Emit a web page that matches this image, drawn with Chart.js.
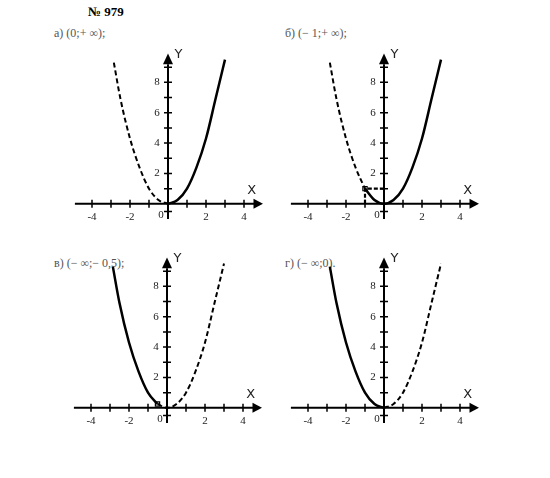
<!DOCTYPE html>
<html><head><meta charset="utf-8">
<script src="https://cdn.jsdelivr.net/npm/chart.js@4"></script>
<style>
body{margin:0;background:#fff;width:550px;height:478px;position:relative;font-family:"Liberation Serif",serif;overflow:hidden}
.t{position:absolute;font-size:12px;color:#555;white-space:nowrap}
canvas{position:absolute}
</style></head><body>
<div class="t" style="left:88px;top:4px;font-weight:bold;color:#000;font-size:13px">№ 979</div>
<div class="t" style="left:54px;top:26px">а) (0;+ ∞);</div>
<div class="t" style="left:285px;top:26px">б) (− 1;+ ∞);</div>
<div class="t" style="left:54px;top:256px">в) (− ∞;− 0,5);</div>
<div class="t" style="left:285px;top:256px">г) (− ∞;0).</div>
<div id="w"></div>
<script>
// points (same parabola in every panel)
const xs = [-2.85, -2.5, -2, -1.5, -1, -0.5, 0, 0.5, 1, 1.5, 2, 2.5, 3];
const ys = [9.3, 6.9, 4.3, 2.4, 1, 0.25, 0, 0.25, 1, 2.4, 4.3, 6.9, 9.5];
const xTicks = [-4, -2, 2, 4];
const yTicks = [2, 4, 6, 8];
// split point between dashed and solid part, and which side is solid
const panels = [
  { ox: 168, oy: 204, split: 0, solidRight: true, mark: null },
  { ox: 384, oy: 204, split: -1, solidRight: true, mark: [-1, 1] },
  { ox: 167, oy: 408, split: -0.5, solidRight: false, mark: [-0.5, 0.25] },
  { ox: 384, oy: 408, split: 0, solidRight: false, mark: null }
];
const UX = 19, UY = 15.2, PAD = 20;

const axesPlugin = {
  id: 'axes',
  beforeDatasetsDraw(chart) {
    const c = chart.ctx, sx = chart.scales.x, sy = chart.scales.y;
    const X = v => sx.getPixelForValue(v), Y = v => sy.getPixelForValue(v);
    c.save();
    c.strokeStyle = '#000'; c.fillStyle = '#000'; c.lineWidth = 2;
    c.beginPath(); c.moveTo(X(-4.9), Y(0)); c.lineTo(X(4.6), Y(0));
    c.moveTo(X(0), Y(-1)); c.lineTo(X(0), Y(9.2)); c.stroke();
    c.beginPath(); c.moveTo(X(5), Y(0)); c.lineTo(X(4.5), Y(0) - 5); c.lineTo(X(4.5), Y(0) + 5); c.fill();
    c.beginPath(); c.moveTo(X(0), Y(9.9)); c.lineTo(X(0) - 5, Y(9.2)); c.lineTo(X(0) + 5, Y(9.2)); c.fill();
    c.lineWidth = 1.5; c.beginPath();
    for (let i = -4; i <= 4; i++) if (i) { c.moveTo(X(i), Y(0) - 4); c.lineTo(X(i), Y(0) + 4); }
    for (let j = 1; j <= 9; j++) { c.moveTo(X(0) - 4, Y(j)); c.lineTo(X(0) + 4, Y(j)); }
    c.moveTo(X(0) - 4, Y(-0.5)); c.lineTo(X(0) + 4, Y(-0.5));
    c.stroke();
    c.font = '11px "Liberation Serif"'; c.fillStyle = '#222'; c.textAlign = 'center'; c.textBaseline = 'middle';
    xTicks.forEach(v => c.fillText(v, X(v), Y(0) + 13));
    yTicks.forEach(v => c.fillText(v, X(0) - 11, Y(v)));
    c.fillText('0', X(0) - 7, Y(0) + 11);
    c.font = '13px "DejaVu Sans"';
    c.fillText('X', X(4.4), Y(0.9));
    c.fillText('Y', X(0.55), Y(9.8));
    c.restore();
  }
};

panels.forEach(p => {
  const cv = document.createElement('canvas');
  const w = 10 * UX + 2 * PAD, h = 11 * UY + 2 * PAD;
  cv.width = w; cv.height = h;
  cv.style.left = (p.ox - 5 * UX - PAD) + 'px';
  cv.style.top = (p.oy - 10 * UY - PAD) + 'px';
  cv.style.width = w + 'px'; cv.style.height = h + 'px';
  document.getElementById('w').appendChild(cv);
  const pts = xs.map((x, i) => ({ x, y: ys[i] }));
  const splitY = p.split * p.split;
  const left = pts.filter(q => q.x < p.split).concat([{ x: p.split, y: splitY }]);
  const right = [{ x: p.split, y: splitY }].concat(pts.filter(q => q.x > p.split));
  const base = { borderColor: '#000', pointRadius: 0, cubicInterpolationMode: 'monotone', fill: false };
  const ds = [
    Object.assign({}, base, { data: left, borderWidth: p.solidRight ? 2 : 2.5, borderDash: p.solidRight ? [5, 3] : [] }),
    Object.assign({}, base, { data: right, borderWidth: p.solidRight ? 2.5 : 2, borderDash: p.solidRight ? [] : [5, 3] })
  ];
  if (p.mark) {
    const [mx, my] = p.mark;
    if (my >= 1) {
      ds.push({ data: [{ x: mx, y: 0 }, { x: mx, y: my }, { x: 0, y: my }], showLine: true, tension: 0, pointRadius: 0, borderColor: '#000', borderWidth: 2.2, borderDash: [4, 2] });
    }
    ds.push({ data: [{ x: mx, y: my }], showLine: false, pointStyle: 'rect', pointRadius: 3, borderColor: '#000', borderWidth: 1.2, backgroundColor: '#fff' });
  }
  new Chart(cv, {
    type: 'scatter',
    data: { datasets: ds },
    options: {
      responsive: false, animation: false, showLine: true,
      layout: { padding: PAD },
      scales: {
        x: { type: 'linear', min: -5, max: 5, display: false },
        y: { type: 'linear', min: -1, max: 10, display: false }
      },
      plugins: { legend: { display: false }, tooltip: { enabled: false } }
    },
    plugins: [axesPlugin]
  });
});
</script>
</body></html>
